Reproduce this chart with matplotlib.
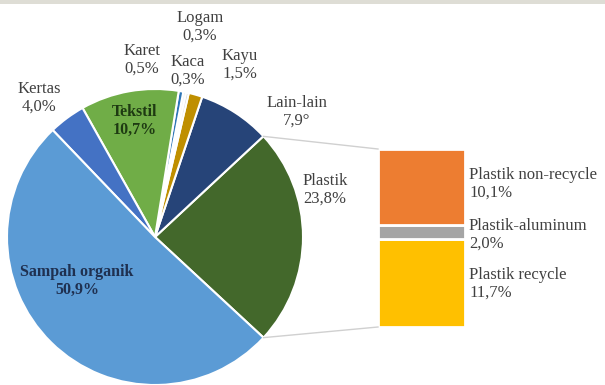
import numpy as np
import matplotlib.pyplot as plt

plt.rcParams['font.family'] = ['Liberation Serif', 'DejaVu Serif']

# pie slices, counterclockwise starting from Plastik
labels = ['Plastik', 'Lain-lain', 'Kayu', 'Logam', 'Kaca', 'Karet',
          'Tekstil', 'Kertas', 'Sampah organik']
values = [23.8, 7.9, 1.5, 0.3, 0.3, 0.5, 10.7, 4.0, 50.9]
texts = ['23,8%', '7,9°', '1,5%', '0,3%', '0,3%', '0,5%', '10,7%', '4,0%', '50,9%']
colors = ['#43682b', '#264478', '#bf8f00', '#d0d0d0', '#f0f0f0', '#2e75b6',
          '#70ad47', '#4472c4', '#5b9bd5']

# breakdown of Plastik (bottom to top)
sub_labels = ['Plastik recycle', 'Plastik-aluminum', 'Plastik non-recycle']
sub_values = [11.7, 2.0, 10.1]
sub_texts = ['11,7%', '2,0%', '10,1%']
sub_colors = ['#ffc000', '#a5a5a5', '#ed7d31']

W, H = 605, 385
fig = plt.figure(figsize=(W / 100, H / 100), dpi=100)
ax = fig.add_axes([0, 0, 1, 1])

# grey strip at the top
ax.axhspan(H - 4, H, color='#deddd5', lw=0)

cx, cy, r = 155, H - 237, 148
start = -values[0] / 100 * 360 / 2
ax.pie(values, colors=colors, startangle=start, center=(cx, cy), radius=r,
       wedgeprops=dict(edgecolor='white', linewidth=1.5), frame=True)
ax.set_xlim(0, W)
ax.set_ylim(0, H)
ax.set_aspect('equal')
ax.axis('off')

# bar of the plastic breakdown
bx0, bx1 = 378, 465
by0, by1 = H - 327, H - 149
scale = (by1 - by0) / sum(sub_values)
bottoms = np.concatenate([[0], np.cumsum(sub_values)[:-1]]) * scale + by0
ax.bar((bx0 + bx1) / 2, np.array(sub_values) * scale, bottom=bottoms,
       width=bx1 - bx0, color=sub_colors, edgecolor='white', linewidth=2)

# connector lines
a = np.radians(start)
ax.plot([cx + r * np.cos(a), bx0], [cy + r * np.sin(a), by0],
        color='#d0d0d0', lw=1)
ax.plot([cx + r * np.cos(-a), bx0], [cy + r * np.sin(-a), by1],
        color='#d0d0d0', lw=1)

# labels of pie (pixel positions of text centres)
pos = {
    'Plastik': (325, 190),
    'Lain-lain': (297, 112),
    'Kayu': (240, 65),
    'Logam': (200, 27),
    'Kaca': (188, 71),
    'Karet': (142, 60),
    'Tekstil': (135, 121),
    'Kertas': (39, 98),
    'Sampah organik': (77, 281),
}
for lab, txt in zip(labels, texts):
    x, y = pos[lab]
    if lab == 'Sampah organik':
        kw = dict(color='#1f3050', fontweight='bold', fontsize=11.5)
    elif lab == 'Tekstil':
        kw = dict(color='#1e3a12', fontweight='bold', fontsize=11.5)
    else:
        kw = dict(color='#404040', fontsize=12)
    ax.text(x, H - y, lab + '\n' + txt, ha='center', va='center',
            linespacing=1.1, **kw)

sub_pos = [284, 235, 184]
for lab, txt, y in zip(sub_labels, sub_texts, sub_pos):
    ax.text(469, H - y, lab + '\n' + txt, ha='left', va='center',
            fontsize=12, linespacing=1.1, color='#404040')

fig.savefig('out.png', dpi=100)
